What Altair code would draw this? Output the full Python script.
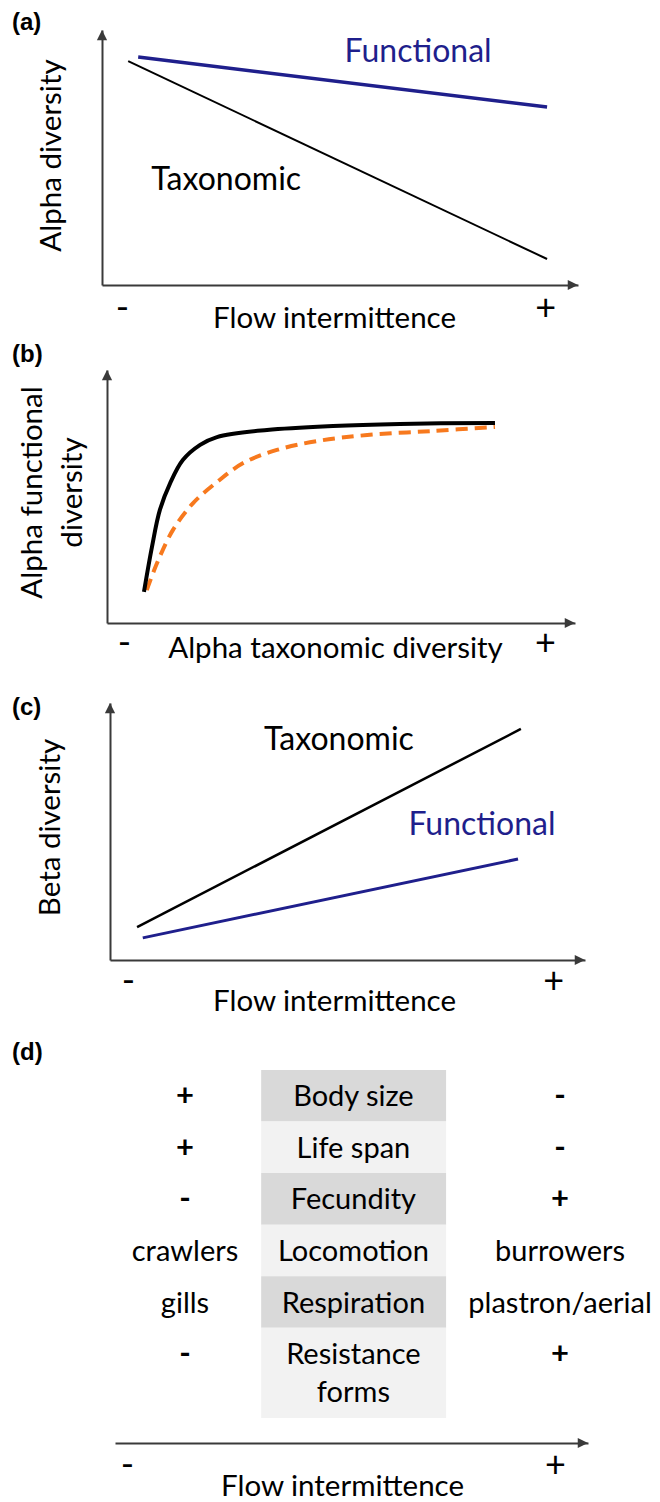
import altair as alt
import pandas as pd

FONT = "Lato"
TAG_FONT = "Liberation Sans"
NAVY = "#1f1f8c"
ORANGE = "#f7791e"
AXIS_GREY = "#3a3a3a"

# ---------------- data (arbitrary 0-100 units) ----------------
# (a) alpha diversity along flow intermittence
a_tax_x = [5.5, 93.5]
a_tax_y = [87.8, 10.2]
a_fun_x = [7.6, 93.5]
a_fun_y = [89.4, 69.8]

# (b) alpha functional vs alpha taxonomic diversity
b_black_x = [7.9, 9.6, 11.3, 13.5, 16.2, 19.9, 23.5, 34.2, 48.3, 62.6, 82.9]
b_black_y = [12.3, 30.0, 44.7, 55.3, 64.4, 70.4, 73.5, 76.3, 77.9, 78.7, 79.1]
b_orange_x = [8.5, 10.7, 14.1, 18.4, 23.5, 29.1, 36.3, 44.9, 55.6, 69.7, 82.9]
b_orange_y = [13.0, 23.7, 36.8, 47.4, 55.7, 63.2, 68.4, 71.9, 74.3, 75.9, 77.5]

# (c) beta diversity along flow intermittence
c_tax_x = [5.7, 86.5]
c_tax_y = [12.8, 89.9]
c_fun_x = [6.9, 85.9]
c_fun_y = [8.6, 39.3]

# (d) trait table
traits = ["Body size", "Life span", "Fecundity", "Locomotion", "Respiration", "Resistance\nforms"]
low_values = ["+", "+", "-", "crawlers", "gills", "-"]
high_values = ["-", "-", "+", "burrowers", "plastron/aerial", "+"]
row_span = [1, 1, 1, 1, 1, 1.75]
row_shade = ["dark", "light", "dark", "light", "dark", "light"]

# axis end labels ("-" / "+") positions along each x axis
a_ticks = [4.2, 93.1]
b_ticks = [3.6, 93.6]
c_ticks = [3.8, 93.3]
d_ticks = [2.5, 93.0]

# ---------------- helpers ----------------
UP = "M0,0L0.5,1L-0.5,1Z"
RIGHT = "M0,0L-1,0.5L-1,-0.5Z"
TITLE_SIZE = 29.5


def x_axis(title, ticks, title_x, title_y, label_pad):
    return alt.Axis(
        title=title, values=ticks, labelExpr="datum.value < 50 ? '-' : '+'",
        ticks=False, tickSize=0, grid=False, domain=True,
        domainColor=AXIS_GREY, domainWidth=2,
        labelFont=FONT, labelFontSize=36, labelColor="black",
        labelPadding=label_pad, labelBaseline="middle", labelOverlap=False,
        labelFlush=False, labelBound=False,
        titleFont=FONT, titleFontSize=TITLE_SIZE, titleFontWeight="normal", titleColor="black",
        titleX=title_x, titleY=title_y, titleBaseline="alphabetic", titleAlign="center",
        titleAngle=0,
    )


def y_axis(title, offset, title_x, title_y):
    return alt.Axis(
        title=title, labels=False, ticks=False, tickSize=0, grid=False,
        domain=True, domainColor=AXIS_GREY, domainWidth=2, offset=offset,
        titleFont=FONT, titleFontSize=TITLE_SIZE, titleFontWeight="normal", titleColor="black",
        titleX=title_x, titleY=title_y, titleAngle=270, titleBaseline="middle",
        titleAlign="center", titleLineHeight=40,
    )


def lin(rng):
    return alt.Scale(domain=[0, 100], range=rng, nice=False, zero=False)


def line(xs, ys, X, Y, **mark):
    return alt.Chart(pd.DataFrame({"x": xs, "y": ys})).mark_line(**mark).encode(x=X, y=Y)


def label(text, x, y, X, Y, color="black", size=32):
    df = pd.DataFrame({"x": [x], "y": [y], "t": [text]})
    return alt.Chart(df).mark_text(font=FONT, fontSize=size, color=color,
                                   baseline="middle").encode(x=X, y=Y, text="t:N")


def tag(text, dy):
    return alt.Chart(pd.DataFrame({"t": [text]})).mark_text(
        font=TAG_FONT, fontSize=24, fontWeight="bold", color="black",
        align="left", baseline="middle").encode(text="t:N", x=alt.value(-90), y=alt.value(dy))


def arrowheads(X, Y):
    up = alt.Chart(pd.DataFrame({"x": [0], "y": [100]})).mark_point(
        shape=UP, size=420, filled=True, color=AXIS_GREY, opacity=1, strokeWidth=0).encode(x=X, y=Y)
    right = alt.Chart(pd.DataFrame({"x": [100], "y": [0]})).mark_point(
        shape=RIGHT, size=420, filled=True, color=AXIS_GREY, opacity=1, strokeWidth=0).encode(x=X, y=Y)
    return [up, right]


# ---------------- panel (a) ----------------
WA, HA = 476, 255
XA = alt.X("x:Q", scale=lin([0, WA]), axis=x_axis("Flow intermittence", a_ticks, 232, 42, 23))
YA = alt.Y("y:Q", scale=lin([HA, 0]), axis=y_axis("Alpha diversity", 0, -51, 125))
panel_a = alt.layer(
    line(a_tax_x, a_tax_y, XA, YA, color="black", strokeWidth=2),
    line(a_fun_x, a_fun_y, XA, YA, color=NAVY, strokeWidth=3.5),
    label("Functional", 66.4, 91.4, XA, YA, color=NAVY),
    label("Taxonomic", 26.1, 41.2, XA, YA),
    *arrowheads(XA, YA),
    tag("(a)", -7),
).properties(width=WA, height=HA)

# ---------------- panel (b) ----------------
WB, HB = 473, 258
XB = alt.X("x:Q", scale=lin([5, WB]), axis=x_axis("Alpha taxonomic diversity", b_ticks, 233, 34, 20))
YB = alt.Y("y:Q", scale=lin([HB, 5]), axis=y_axis(["Alpha functional", "diversity"], -5, -75, 127))
panel_b = alt.layer(
    line(b_orange_x, b_orange_y, XB, YB, color=ORANGE, strokeWidth=4, strokeDash=[12, 7],
         interpolate="catmull-rom"),
    line(b_black_x, b_black_y, XB, YB, color="black", strokeWidth=4, interpolate="catmull-rom"),
    *arrowheads(XB, YB),
    tag("(b)", -10),
).properties(width=WB, height=HB)

# ---------------- panel (c) ----------------
WC, HC = 483, 257
XC = alt.X("x:Q", scale=lin([8, WC]), axis=x_axis("Flow intermittence", c_ticks, 232, 50, 21))
YC = alt.Y("y:Q", scale=lin([HC, 0]), axis=y_axis("Beta diversity", -8, -60, 124))
panel_c = alt.layer(
    line(c_tax_x, c_tax_y, XC, YC, color="black", strokeWidth=2.5),
    line(c_fun_x, c_fun_y, XC, YC, color=NAVY, strokeWidth=3),
    label("Taxonomic", 48.2, 85.6, XC, YC),
    label("Functional", 78.3, 52.5, XC, YC, color=NAVY),
    *arrowheads(XC, YC),
    tag("(c)", 5),
).properties(width=WC, height=HC)

# ---------------- panel (d) ----------------
WD, HD = 486, 403
tops = [sum(row_span[:i]) for i in range(len(row_span))]
table = pd.DataFrame({
    "trait": traits, "low": low_values, "high": high_values, "shade": row_shade,
    "y": tops, "y2": [t + s for t, s in zip(tops, row_span)],
})
table["first"] = table["y"] + 0.53

XD = alt.X("x:Q", scale=lin([13, WD]), axis=x_axis("Flow intermittence", d_ticks, 240, 52, 22))
yd_scale = alt.Scale(domain=[0, 6.75], range=[30, 378], nice=False, zero=False)

COL_LOW, COL_TRAIT, COL_HIGH = 14.8, 50.4, 94.1
BAND_FROM, BAND_TO = 30.9, 70.0

base_d = alt.Chart(table)
bands = base_d.mark_rect().encode(
    x=XD, x2="x2:Q",
    y=alt.Y("y:Q", scale=yd_scale, axis=None), y2="y2:Q",
    color=alt.Color("shade:N", scale=alt.Scale(domain=["dark", "light"], range=["#d9d9d9", "#f2f2f2"]),
                    legend=None),
).transform_calculate(x=str(BAND_FROM), x2=str(BAND_TO))

trait_text = base_d.mark_text(font=FONT, fontSize=29, color="black", baseline="middle",
                              lineBreak="\n", lineHeight=38).encode(
    x=XD, y=alt.Y("first:Q", scale=yd_scale, axis=None), text="trait:N",
).transform_calculate(x=str(COL_TRAIT))


def side(col, pos):
    words = base_d.transform_calculate(x=str(pos), txt=f"datum.{col}")
    enc = dict(x=XD, y=alt.Y("first:Q", scale=yd_scale, axis=None), text="txt:N")
    signs = words.transform_filter("datum.txt == '+' || datum.txt == '-'").mark_text(
        font=FONT, fontSize=31, fontWeight="bold", color="black", baseline="middle").encode(**enc)
    plain = words.transform_filter("datum.txt != '+' && datum.txt != '-'").mark_text(
        font=FONT, fontSize=29, color="black", baseline="middle").encode(**enc)
    return [signs, plain]


arrow_d = alt.Chart(pd.DataFrame({"x": [100]})).mark_point(
    shape=RIGHT, size=420, filled=True, color=AXIS_GREY, opacity=1, strokeWidth=0, y="height"
).encode(x=XD)

panel_d = alt.layer(
    bands, trait_text, *side("low", COL_LOW), *side("high", COL_HIGH),
    arrow_d, tag("(d)", 13),
).properties(width=WD, height=HD)

chart = alt.vconcat(panel_a, panel_b, panel_c, panel_d, spacing=80, bounds="flush").properties(
    padding={"left": 4, "top": 3, "right": 0, "bottom": 0}
).configure_view(stroke=None)

chart.save("out.html", embed_options={"renderer": "svg", "actions": False})
